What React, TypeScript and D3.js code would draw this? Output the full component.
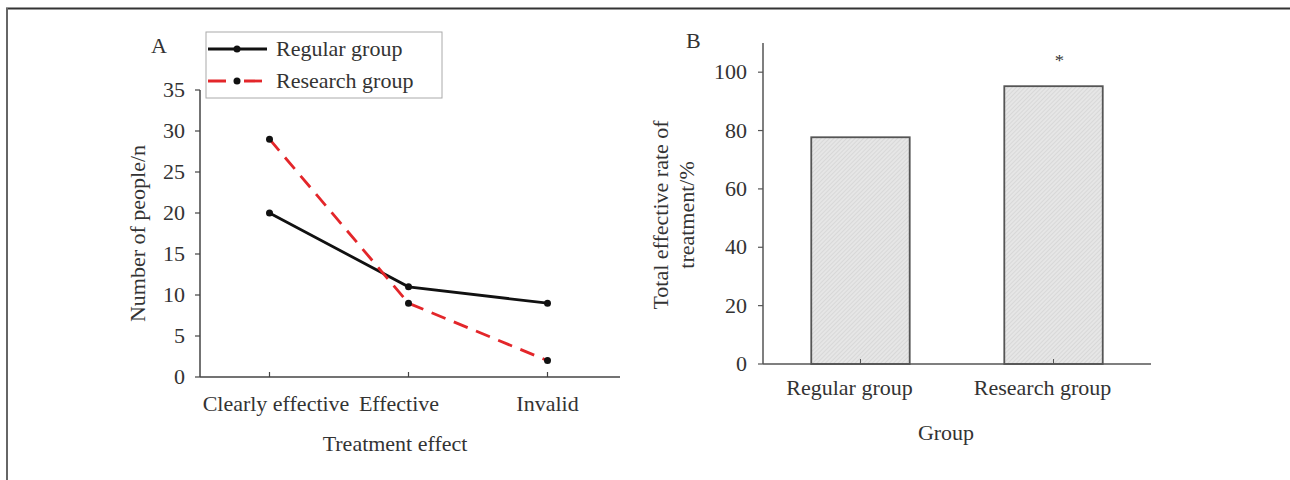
import React from "react";
import * as d3 from "d3";

const effectCategories = ["Clearly effective", "Effective", "Invalid"];
const regularCounts = [20, 11, 9];
const researchCounts = [29, 9, 2];
const countTicks = [0, 5, 10, 15, 20, 25, 30, 35];

const groups = ["Regular group", "Research group"];
const effectiveRates = [77.7, 95.2];
const rateTicks = [0, 20, 40, 60, 80, 100];
const significance = ["", "*"];

const FONT = "'Liberation Serif', 'Times New Roman', serif";
const FS = 20;

// the scanned figure's type is a bit wider than Liberation Serif, so stretch it
const T = ({ x, y, anchor = "start", size = FS, children, dy }: any) => (
  <text
    transform={`translate(${x},${y}) scale(1.1,1)`}
    textAnchor={anchor}
    fontSize={size}
    dy={dy}
  >
    {children}
  </text>
);

const LinePanel = () => {
  const x = d3.scalePoint<string>().domain(effectCategories).range([200, 617]).padding(0.5);
  const y = d3.scaleLinear().domain([0, 35]).range([377, 90]);
  const line = d3
    .line<number>()
    .x((_, i) => x(effectCategories[i]) as number)
    .y(d => y(d));

  const series = [
    { name: "Regular group", values: regularCounts, color: "#111", dash: "none" },
    { name: "Research group", values: researchCounts, color: "#e3262a", dash: "15,9" }
  ];

  return (
    <g fontFamily={FONT} fill="#333">
      <T x={151} y={53}>A</T>
      <line x1={200} x2={200} y1={y(35)} y2={y(0)} stroke="#444" strokeWidth={1.5} />
      <line x1={200} x2={620} y1={y(0)} y2={y(0)} stroke="#444" strokeWidth={1.5} />
      {countTicks.map(t => (
        <g key={t}>
          <line x1={195} x2={200} y1={y(t)} y2={y(t)} stroke="#444" strokeWidth={1.2} />
          <T x={185} y={y(t)} dy="0.35em" anchor="end">{t}</T>
        </g>
      ))}
      {effectCategories.map(c => (
        <g key={c}>
          <line x1={x(c)} x2={x(c)} y1={y(0)} y2={y(0) - 5} stroke="#444" strokeWidth={1.2} />
        </g>
      ))}
      <T x={276} y={411} anchor="middle">{effectCategories[0]}</T>
      <T x={399} y={411} anchor="middle">{effectCategories[1]}</T>
      <T x={x(effectCategories[2])} y={411} anchor="middle">{effectCategories[2]}</T>
      <text
        transform={`translate(145,${(y(0) + y(35)) / 2}) rotate(-90) scale(1.1,1)`}
        textAnchor="middle"
        fontSize={FS}
      >
        Number of people/n
      </text>
      <T x={395} y={451} anchor="middle">Treatment effect</T>

      {series.map(s => (
        <g key={s.name}>
          <path d={line(s.values) as string} fill="none" stroke={s.color} strokeWidth={2.8} strokeDasharray={s.dash} />
          {s.values.map((v, i) => (
            <circle key={i} cx={x(effectCategories[i])} cy={y(v)} r={3.5} fill="#111" />
          ))}
        </g>
      ))}

      <rect x={206} y={32} width={236} height={66} fill="#fff" stroke="#aaa" strokeWidth={1} />
      {series.map((s, i) => {
        const ly = 49 + i * 32;
        return (
          <g key={s.name}>
            <line x1={208} x2={267} y1={ly} y2={ly} stroke={s.color} strokeWidth={2.8} strokeDasharray={i === 1 ? "18,18" : "none"} />
            <circle cx={237} cy={ly} r={3.5} fill="#111" />
            <T x={276} y={ly} dy="0.35em">{s.name}</T>
          </g>
        );
      })}
    </g>
  );
};

const BarPanel = () => {
  const x = d3.scaleBand<string>().domain(groups).range([763, 1151]).paddingInner(0.49).paddingOuter(0.25);
  const y = d3.scaleLinear().domain([0, 110]).range([364, 43]);

  return (
    <g fontFamily={FONT} fill="#333">
      <defs>
        <pattern id="hatch" width={3} height={3} patternUnits="userSpaceOnUse" patternTransform="rotate(45)">
          <rect width={3} height={3} fill="#e6e6e6" />
          <line x1={0} y1={0} x2={0} y2={3} stroke="#cacaca" strokeWidth={1} />
        </pattern>
      </defs>
      <T x={686} y={48}>B</T>
      {groups.map((g, i) => {
        const cx = (x(g) as number) + x.bandwidth() / 2;
        return (
          <g key={g}>
            <rect
              x={x(g)}
              y={y(effectiveRates[i])}
              width={x.bandwidth()}
              height={y(0) - y(effectiveRates[i])}
              fill="url(#hatch)"
              stroke="#555"
              strokeWidth={1.8}
            />
            <line x1={cx} x2={cx} y1={y(0)} y2={y(0) - 5} stroke="#555" />
            <T x={cx - 11} y={395} anchor="middle">{g}</T>
            {significance[i] && (
              <T x={cx + 6} y={y(effectiveRates[i]) - 20} anchor="middle" size={17}>
                {significance[i]}
              </T>
            )}
          </g>
        );
      })}
      <line x1={763} x2={763} y1={y(110)} y2={y(0)} stroke="#555" strokeWidth={1.5} />
      <line x1={763} x2={1151} y1={y(0)} y2={y(0)} stroke="#555" strokeWidth={1.5} />
      {rateTicks.map(t => (
        <g key={t}>
          <line x1={758} x2={763} y1={y(t)} y2={y(t)} stroke="#555" strokeWidth={1.2} />
          <T x={747} y={y(t)} dy="0.35em" anchor="end">{t}</T>
        </g>
      ))}
      <text transform={`translate(668,215) rotate(-90) scale(1.1,1)`} textAnchor="middle" fontSize={FS}>
        <tspan x={0} dy={0}>Total effective rate of</tspan>
        <tspan x={0} dy={26}>treatment/%</tspan>
      </text>
      <T x={946} y={440} anchor="middle">Group</T>
    </g>
  );
};

export default function App() {
  return (
    <svg
      width={1290}
      height={480}
      style={{ position: "absolute", left: 0, top: 0, display: "block", background: "#fff" }}
    >
      <line x1={6} x2={1290} y1={8.5} y2={8.5} stroke="#333" strokeWidth={2} />
      <line x1={7} x2={7} y1={8} y2={480} stroke="#666" strokeWidth={2} />
      <LinePanel />
      <BarPanel />
    </svg>
  );
}
